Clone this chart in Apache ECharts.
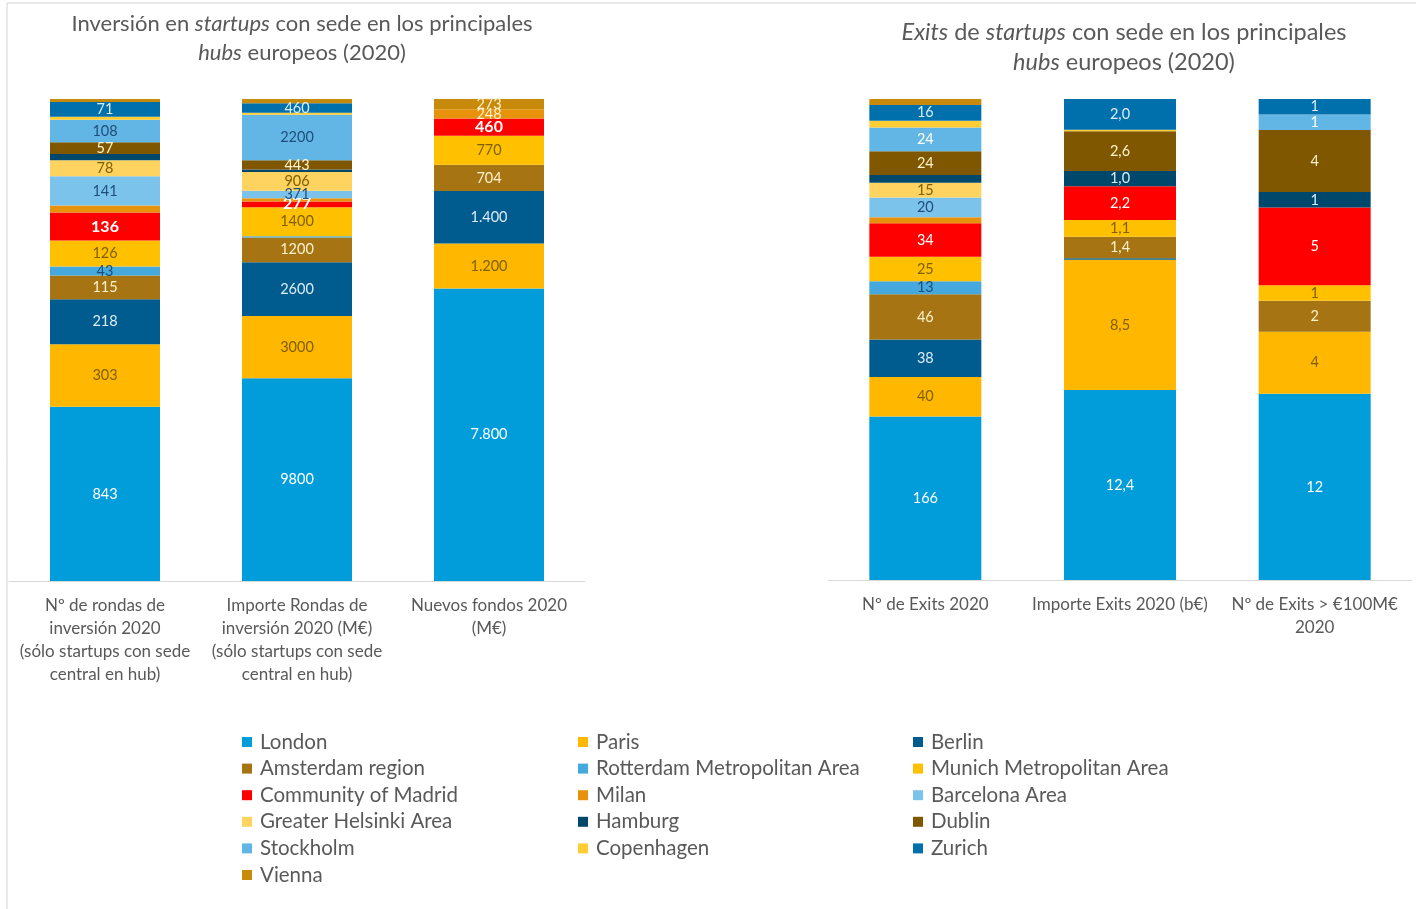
<!DOCTYPE html>
<html>
<head>
<meta charset="utf-8">
<script src="https://cdn.jsdelivr.net/npm/echarts@6/dist/echarts.min.js"></script>
<style>
  html, body { margin: 0; padding: 0; background: #fff; }
  #chart { width: 1416px; height: 909px; }
</style>
</head>
<body>
<div id="chart"></div>
<script>
// categorias de cada panel
const categoriesLeft = ['Nº de rondas de\ninversión 2020\n(sólo startups con sede\ncentral en hub)',
  'Importe Rondas de\ninversión 2020 (M€)\n(sólo startups con sede\ncentral en hub)',
  'Nuevos fondos 2020\n(M€)'];
const categoriesRight = ['Nº de Exits 2020', 'Importe Exits 2020 (b€)', 'Nº de Exits > €100M€\n2020'];

const hubs = ['London', 'Paris', 'Berlin', 'Amsterdam region', 'Rotterdam Metropolitan Area',
  'Munich Metropolitan Area', 'Community of Madrid', 'Milan', 'Barcelona Area',
  'Greater Helsinki Area', 'Hamburg', 'Dublin', 'Stockholm', 'Copenhagen', 'Zurich', 'Vienna'];

// inversion: [rondas, importe rondas M€, nuevos fondos M€]
const londonInv = [843, 9800, 7800];
const parisInv = [303, 3000, 1200];
const berlinInv = [218, 2600, 1400];
const amsterdamInv = [115, 1200, 704];
const rotterdamInv = [43, 60, 0];
const munichInv = [126, 1400, 770];
const madridInv = [136, 277, 460];
const milanInv = [34, 150, 248];
const barcelonaInv = [141, 371, 0];
const helsinkiInv = [78, 906, 0];
const hamburgInv = [30, 120, 0];
const dublinInv = [57, 443, 0];
const stockholmInv = [108, 2200, 0];
const copenhagenInv = [15, 100, 0];
const zurichInv = [71, 460, 0];
const viennaInv = [15, 200, 273];

// exits: [nº exits, importe b€, nº exits > 100M€]
const londonEx = [166, 12.4, 12];
const parisEx = [40, 8.5, 4];
const berlinEx = [38, 0.1, 0];
const amsterdamEx = [46, 1.4, 2];
const rotterdamEx = [13, 0, 0];
const munichEx = [25, 1.1, 1];
const madridEx = [34, 2.2, 5];
const milanEx = [6, 0, 0];
const barcelonaEx = [20, 0, 0];
const helsinkiEx = [15, 0, 0];
const hamburgEx = [8, 1.0, 1];
const dublinEx = [24, 2.6, 4];
const stockholmEx = [24, 0, 1];
const copenhagenEx = [7, 0.1, 0];
const zurichEx = [16, 2.0, 1];
const viennaEx = [6, 0, 0];

const invData = [londonInv, parisInv, berlinInv, amsterdamInv, rotterdamInv, munichInv, madridInv,
  milanInv, barcelonaInv, helsinkiInv, hamburgInv, dublinInv, stockholmInv, copenhagenInv, zurichInv, viennaInv];
const exData = [londonEx, parisEx, berlinEx, amsterdamEx, rotterdamEx, munichEx, madridEx,
  milanEx, barcelonaEx, helsinkiEx, hamburgEx, dublinEx, stockholmEx, copenhagenEx, zurichEx, viennaEx];

// below this value the segment gets no label
const labelMinInv = [40, 250, 200];
const labelMinEx = [10, 0.5, 0.5];

const colors = ['#009dda', '#ffb700', '#005c8e', '#a67412', '#45a9de', '#ffc000', '#ff0000', '#e8920c',
  '#7cc3ec', '#ffd35f', '#00486b', '#7e5700', '#62b6e6', '#ffcc33', '#0070ad', '#c88a0a'];
const labelColors = ['#ffffff', '#7f6000', '#ddebf7', '#fff2cc', '#1f4e79', '#7f6000', '#ffffff', '#fff2cc',
  '#1f4e79', '#7f6000', '#ddebf7', '#fff2cc', '#1f4e79', '#7f6000', '#ddebf7', '#fff2cc'];

const FONT = 'Lato';
const GREY = '#595959';

function thousands(v) {
  return String(v).replace(/\B(?=(\d{3})+(?!\d))/g, '.');
}
const fmtInv = [v => String(v), v => String(v), v => thousands(v)];
const fmtEx = [v => String(v), v => v.toFixed(1).replace('.', ','), v => String(v)];

function totals(rows) {
  return rows[0].map((_, j) => rows.reduce((s, r) => s + r[j], 0));
}
const totInv = totals(invData);
const totEx = totals(exData);

let series = [];
hubs.forEach((name, i) => {
  series.push({
    name: name,
    type: 'bar',
    stack: 'inv',
    xAxisIndex: 0,
    yAxisIndex: 0,
    barWidth: 110,
    itemStyle: { color: colors[i] },
    label: {
      show: true,
      position: 'inside',
      fontFamily: FONT,
      fontSize: i === 6 ? 16 : 14.5,
      fontWeight: i === 6 ? 'bold' : 'normal',
      color: labelColors[i],
      formatter: p => {
        let v = invData[i][p.dataIndex];
        return v >= labelMinInv[p.dataIndex] ? fmtInv[p.dataIndex](v) : '';
      }
    },
    data: invData[i].map((v, j) => v / totInv[j] * 100)
  });
  series.push({
    name: name,
    type: 'bar',
    stack: 'ex',
    xAxisIndex: 1,
    yAxisIndex: 1,
    barWidth: 112,
    itemStyle: { color: colors[i] },
    label: {
      show: true,
      position: 'inside',
      fontFamily: FONT,
      fontSize: 14.5,
      color: i === 12 ? '#ffffff' : labelColors[i],
      formatter: p => {
        let v = exData[i][p.dataIndex];
        return v >= labelMinEx[p.dataIndex] ? fmtEx[p.dataIndex](v) : '';
      }
    },
    data: exData[i].map((v, j) => v / totEx[j] * 100)
  });
});

const legendCols = [
  [0, 3, 6, 9, 12, 15],
  [1, 4, 7, 10, 13],
  [2, 5, 8, 11, 14]
];
const legendX = [237, 573, 908];

const axisCommon = {
  type: 'category',
  axisLine: { lineStyle: { color: '#d9d9d9' } },
  axisTick: { show: false },
  axisLabel: { color: GREY, fontFamily: FONT, fontSize: 17, lineHeight: 23, margin: 13, interval: 0 }
};

let chart = echarts.init(document.getElementById('chart'));
let option = {
  animation: false,
  backgroundColor: '#ffffff',
  title: [
    {
      text: 'Inversión en {i|startups} con sede en los principales\n{i|hubs} europeos (2020)',
      left: 297,
      top: 4,
      textAlign: 'center',
      textStyle: {
        color: GREY, fontFamily: FONT, fontSize: 22, fontWeight: 'normal', lineHeight: 29,
        rich: { i: { fontStyle: 'italic', color: GREY, fontFamily: FONT, fontSize: 22, lineHeight: 29 } }
      }
    },
    {
      text: '{i|Exits} de {i|startups} con sede en los principales\n{i|hubs} europeos (2020)',
      left: 1119,
      top: 12,
      textAlign: 'center',
      textStyle: {
        color: GREY, fontFamily: FONT, fontSize: 23.5, fontWeight: 'normal', lineHeight: 30,
        rich: { i: { fontStyle: 'italic', color: GREY, fontFamily: FONT, fontSize: 23.5, lineHeight: 30 } }
      }
    }
  ],
  legend: legendCols.map((col, k) => ({
    orient: 'vertical',
    left: legendX[k],
    top: 726,
    itemWidth: 10,
    itemHeight: 10,
    itemGap: 4.6,
    icon: 'rect',
    selectedMode: false,
    data: col.map(i => hubs[i]),
    textStyle: { color: GREY, fontFamily: FONT, fontSize: 20.5, lineHeight: 22, padding: [0, 0, 0, 3] }
  })),
  grid: [
    { left: 9, right: 831, top: 99, bottom: 328 },
    { left: 828, right: 4, top: 99, bottom: 329 }
  ],
  xAxis: [
    Object.assign({ gridIndex: 0, data: categoriesLeft }, axisCommon),
    Object.assign({ gridIndex: 1, data: categoriesRight }, axisCommon)
  ],
  yAxis: [
    { type: 'value', gridIndex: 0, min: 0, max: 100, show: false },
    { type: 'value', gridIndex: 1, min: 0, max: 100, show: false }
  ],
  graphic: [
    {
      type: 'rect',
      shape: { x: 7, y: 3, width: 1420, height: 930 },
      style: { fill: 'none', stroke: '#d4d4d4', lineWidth: 1 },
      silent: true
    }
  ],
  series: series
};
chart.setOption(option);
</script>
</body>
</html>
